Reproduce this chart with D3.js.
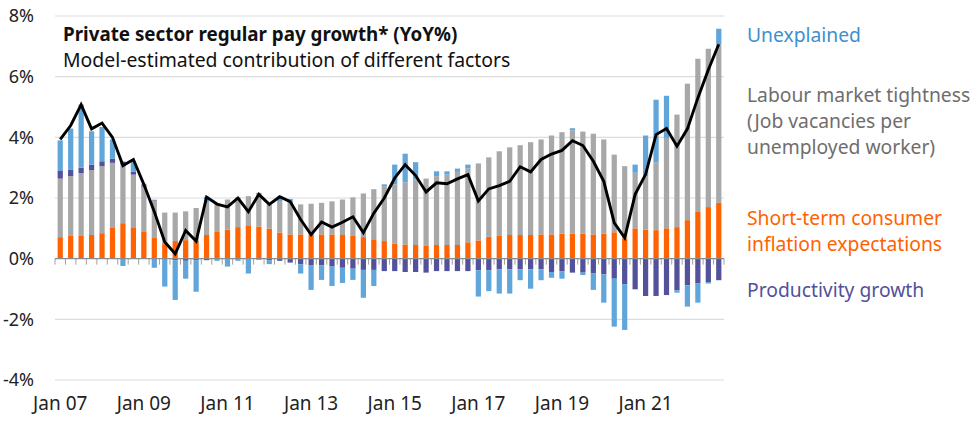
<!DOCTYPE html>
<html>
<head>
<meta charset="utf-8">
<script src="https://cdn.jsdelivr.net/npm/d3@7"></script>
<style>
  html, body { margin: 0; padding: 0; background: #fff; }
  svg { display: block; font-family: "Noto Sans", "Open Sans", sans-serif; }
</style>
</head>
<body>
<svg id="chart" width="980" height="427"></svg>
<script>
// ---- Data (quarterly, Q1 2007 .. Q4 2022) ----
const quarters = d3.range(64).map(i => `${2007 + Math.floor(i / 4)}Q${(i % 4) + 1}`);
const inflationExpectations = [0.71,0.75,0.75,0.78,0.84,1.01,1.17,1.01,0.88,0.68,0.48,0.58,0.61,0.58,0.78,0.88,
  0.96,1.04,1.10,1.06,0.99,0.86,0.80,0.80,0.78,0.80,0.80,0.78,0.75,0.71,0.64,0.58,
  0.50,0.47,0.45,0.42,0.45,0.45,0.45,0.54,0.60,0.72,0.75,0.78,0.78,0.78,0.80,0.80,
  0.83,0.83,0.83,0.80,0.83,0.87,0.67,1.00,0.96,0.94,1.00,1.04,1.27,1.54,1.70,1.84];
const labourTightness = [1.93,1.97,2.07,2.14,2.21,2.15,1.93,1.76,1.49,1.24,1.04,0.94,0.95,1.09,1.06,0.90,
  0.99,0.99,0.96,1.06,0.80,1.04,1.04,0.99,1.03,1.04,1.09,1.17,1.27,1.44,1.65,1.81,
  1.95,2.05,2.16,2.22,2.27,2.32,2.41,2.43,2.54,2.62,2.79,2.89,2.96,3.06,3.13,3.26,
  3.34,3.40,3.36,3.32,3.10,2.56,2.38,1.83,1.76,2.24,2.98,3.71,4.50,5.05,5.22,5.23];
const productivity = [0.27,0.22,0.18,0.18,0.16,0.14,0.10,0.10,0.05,0.02,0.00,-0.05,-0.07,-0.05,-0.05,0.00,
  -0.03,0.00,-0.03,-0.03,-0.06,-0.07,-0.13,-0.19,-0.21,-0.22,-0.26,-0.30,-0.33,-0.37,-0.37,-0.41,
  -0.41,-0.44,-0.44,-0.46,-0.41,-0.41,-0.41,-0.41,-0.38,-0.38,-0.35,-0.35,-0.35,-0.35,-0.35,-0.44,
  -0.41,-0.46,-0.46,-0.49,-0.52,-0.66,-0.84,-1.01,-1.23,-1.23,-1.20,-1.04,-0.88,-0.82,-0.77,-0.71];
const unexplained = [0.99,1.35,2.08,1.10,1.13,0.63,-0.24,0.34,0.05,-0.30,-0.92,-1.31,-0.59,-1.04,0.20,-0.07,
  -0.23,-0.07,-0.46,0.05,-0.12,0.16,0.13,-0.30,-0.82,-0.48,-0.64,-0.50,-0.37,-0.92,-0.53,0.06,
  0.65,0.94,0.57,0.00,0.16,0.11,0.11,0.13,-0.87,-0.69,-0.80,-0.80,-0.36,-0.64,-0.36,-0.19,
  -0.25,0.07,-0.08,-0.54,-0.93,-1.58,-1.51,0.27,1.34,2.06,1.39,-0.08,-0.70,-0.63,-0.05,0.51];
const payGrowth = [3.93,4.39,5.08,4.28,4.47,4.00,3.07,3.27,2.45,1.55,0.55,0.16,0.93,0.58,2.03,1.80,
  1.71,2.00,1.55,2.12,1.79,2.04,1.88,1.29,0.79,1.21,1.04,1.20,1.38,0.86,1.50,2.00,
  2.66,3.10,2.74,2.20,2.50,2.47,2.63,2.77,1.90,2.30,2.41,2.55,3.03,2.86,3.27,3.45,
  3.57,3.89,3.73,3.21,2.55,1.18,0.69,2.12,2.78,4.09,4.29,3.71,4.28,5.30,6.23,7.07];
const yTicks = [-4, -2, 0, 2, 4, 6, 8];
const xTickIndex = [0, 8, 16, 24, 32, 40, 48, 56];
const xTickLabels = ["Jan 07","Jan 09","Jan 11","Jan 13","Jan 15","Jan 17","Jan 19","Jan 21"];
const seriesKeys = ["inflation", "labour", "productivity", "unexplained"];
const seriesColors = { inflation: "#FF6200", labour: "#A8A8A8", productivity: "#525199", unexplained: "#60A6DA" };
const legendItems = [
  { lines: ["Unexplained"], color: "#3E8FD0", y: 35 },
  { lines: ["Labour market tightness", "(Job vacancies per", "unemployed worker)"], color: "#6E6E6E", y: 95 },
  { lines: ["Short-term consumer", "inflation expectations"], color: "#FF6200", y: 218 },
  { lines: ["Productivity growth"], color: "#525199", y: 290 }
];

// ---- Build table ----
const table = quarters.map((q, i) => ({
  q, i,
  inflation: inflationExpectations[i],
  labour: labourTightness[i],
  productivity: productivity[i],
  unexplained: unexplained[i],
  total: payGrowth[i]
}));

const svg = d3.select("#chart");
const plotLeft = 55, plotRight = 724, plotTop = 16, plotBottom = 380;

const x = d3.scaleBand().domain(d3.range(64)).range([plotLeft, plotRight]).paddingInner(0.5).paddingOuter(0.25);
const y = d3.scaleLinear().domain([-4, 8]).range([plotBottom, plotTop]);

// gridlines
svg.append("g").selectAll("line").data(yTicks.filter(t => t !== 0)).join("line")
  .attr("x1", plotLeft).attr("x2", plotRight)
  .attr("y1", d => y(d)).attr("y2", d => y(d))
  .attr("stroke", "#DCDCDC").attr("stroke-width", 1.2);

// y labels
svg.append("g").selectAll("text").data(yTicks).join("text")
  .attr("x", 34).attr("y", d => y(d)).attr("dy", "0.35em")
  .attr("text-anchor", "end").attr("font-size", 18).attr("fill", "#222")
  .text(d => d + "%");

// stacked bars
const stack = d3.stack().keys(seriesKeys).offset(d3.stackOffsetDiverging);
const stacked = stack(table);
svg.append("g").selectAll("g").data(stacked).join("g")
  .attr("fill", d => seriesColors[d.key])
  .selectAll("rect").data(d => d).join("rect")
  .attr("x", d => x(d.data.i))
  .attr("width", x.bandwidth())
  .attr("y", d => y(Math.max(d[0], d[1])))
  .attr("height", d => Math.abs(y(d[0]) - y(d[1])));

// zero axis + minor ticks at category boundaries
const step = x.step();
const gap = step - x.bandwidth();
const boundaries = d3.range(65).map(i => x(0) - gap / 2 + i * step);
svg.append("g").selectAll("line").data(boundaries).join("line")
  .attr("x1", d => d).attr("x2", d => d)
  .attr("y1", y(0)).attr("y2", y(0) + 6)
  .attr("stroke", "#A0A0A0").attr("stroke-width", 1);
svg.append("line").attr("x1", plotLeft).attr("x2", plotRight).attr("y1", y(0)).attr("y2", y(0))
  .attr("stroke", "#8C8C8C").attr("stroke-width", 1.2);

// x labels
const xAxis = d3.axisBottom(x).tickValues(xTickIndex).tickSize(0).tickPadding(0)
  .tickFormat((d, k) => xTickLabels[k]);
const gx = svg.append("g").attr("transform", `translate(0, 399)`).call(xAxis);
gx.select(".domain").remove();
gx.selectAll("text").attr("font-size", 19).attr("fill", "#222").attr("dy", "0.6em")
  .attr("font-family", '"Noto Sans", "Open Sans", sans-serif');

// total line
const line = d3.line().x(d => x(d.i) + x.bandwidth() / 2).y(d => y(d.total));
svg.append("path").datum(table).attr("d", line)
  .attr("fill", "none").attr("stroke", "#000").attr("stroke-width", 2.9)
  .attr("stroke-linejoin", "miter");

// title
svg.append("text").attr("x", 63).attr("y", 41).attr("font-size", 18.8).attr("font-weight", "bold")
  .attr("fill", "#111").text("Private sector regular pay growth* (YoY%)");
svg.append("text").attr("x", 63).attr("y", 67).attr("font-size", 19.4)
  .attr("fill", "#111").text("Model-estimated contribution of different factors");

// legend
const lg = svg.append("g");
legendItems.forEach(item => {
  item.lines.forEach((t, k) => {
    lg.append("text").attr("x", 747).attr("y", item.y + k * 26).attr("dy", "0.35em")
      .attr("font-size", 19.3).attr("fill", item.color).text(t);
  });
});
</script>
</body>
</html>
